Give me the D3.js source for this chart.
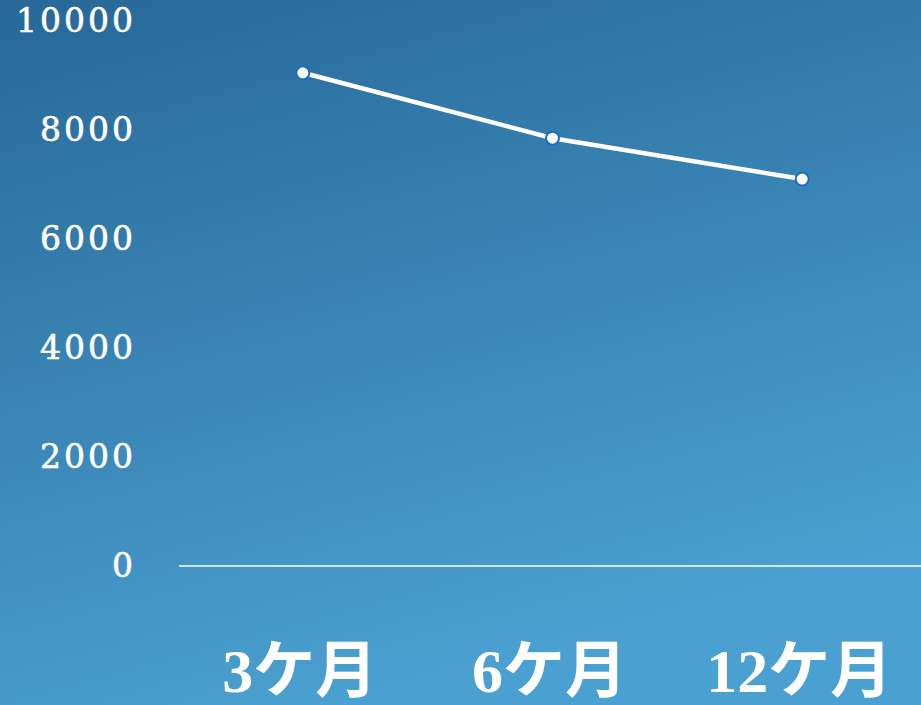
<!DOCTYPE html>
<html>
<head>
<meta charset="utf-8">
<script src="https://cdn.jsdelivr.net/npm/d3@7"></script>
<style>
  html, body { margin: 0; padding: 0; overflow: hidden; }
  svg { display: block; }
</style>
</head>
<body>
<svg id="chart" width="921" height="705"></svg>
<script>
const categories = ['3ケ月', '6ケ月', '12ケ月']
const values = [9050, 7850, 7100]
const yTicks = [0, 2000, 4000, 6000, 8000, 10000]

function drawChart() {
  const svg = d3.select('#chart')
  svg.selectAll('*').remove()

  const width = 921
  const height = 705

  const defs = svg.append('defs')
  const grad = defs.append('linearGradient')
    .attr('id', 'bg')
    .attr('x1', '0').attr('y1', '0')
    .attr('x2', '0.35').attr('y2', '1')
  grad.append('stop').attr('offset', '0%').attr('stop-color', '#276898')
  grad.append('stop').attr('offset', '100%').attr('stop-color', '#4aa0d0')

  svg.append('rect')
    .attr('width', width)
    .attr('height', height)
    .attr('fill', 'url(#bg)')

  const x = d3.scaleBand()
    .domain(categories)
    .range([179, 928])

  const y = d3.scaleLinear()
    .domain([0, 10000])
    .range([566, 21])

  // y labels
  svg.append('g')
    .selectAll('text')
    .data(yTicks)
    .join('text')
    .attr('x', 136)
    .attr('y', d => y(d) + 11)
    .attr('fill', '#fff')
    .attr('text-anchor', 'end')
    .style('font-family', '"DejaVu Serif", "Liberation Serif", serif')
    .style('font-size', '33px')
    .style('letter-spacing', '3px')
    .style('stroke', '#fff')
    .style('stroke-width', '0.6px')
    .text(d => d)

  // x axis line
  svg.append('line')
    .attr('x1', 179)
    .attr('x2', width)
    .attr('y1', y(0))
    .attr('y2', y(0))
    .attr('stroke', '#fff')
    .attr('stroke-width', 1.5)

  // x labels
  svg.append('g')
    .selectAll('text')
    .data(categories)
    .join('text')
    .attr('x', d => x(d) + x.bandwidth() / 2 - 4)
    .attr('y', 692)
    .attr('fill', '#fff')
    .attr('text-anchor', 'middle')
    .style('font-family', '"Liberation Serif", "Noto Sans CJK JP", serif')
    .style('font-size', '62px')
    .style('font-weight', 'bold')
    .text(d => d)

  const line = d3.line()
    .x((d, i) => x(categories[i]) + x.bandwidth() / 2 - 1)
    .y(d => y(d))

  svg.append('path')
    .datum(values)
    .attr('d', line)
    .attr('fill', 'none')
    .attr('stroke', '#fff')
    .attr('stroke-width', 4.5)

  svg.append('g')
    .selectAll('circle')
    .data(values)
    .join('circle')
    .attr('cx', (d, i) => x(categories[i]) + x.bandwidth() / 2 - 1)
    .attr('cy', d => y(d))
    .attr('r', 6.5)
    .attr('fill', '#fff')
    .attr('stroke', '#1a6cc4')
    .attr('stroke-width', 2)
}

document.addEventListener('DOMContentLoaded', drawChart, false)
</script>
</body>
</html>
